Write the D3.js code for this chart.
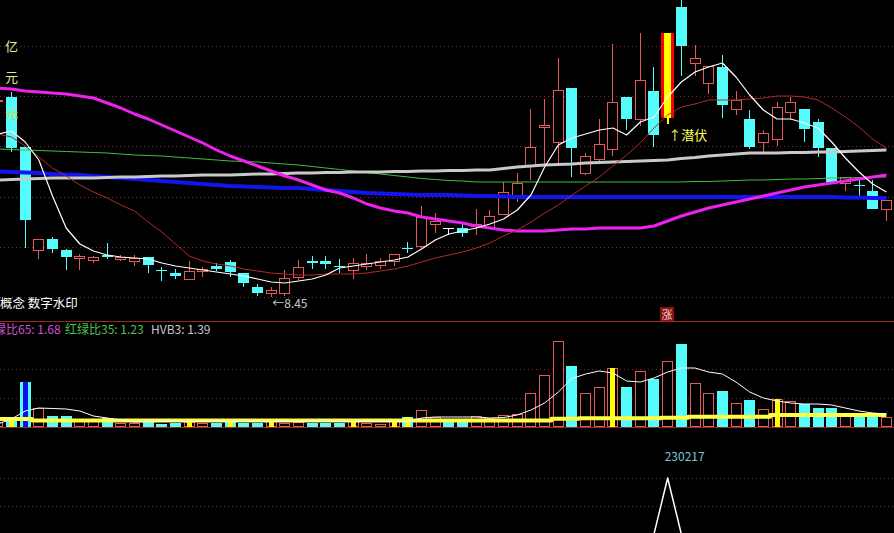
<!DOCTYPE html>
<html><head><meta charset="utf-8">
<script src="https://cdn.jsdelivr.net/npm/d3@7"></script>
<style>html,body{margin:0;padding:0;background:#000;overflow:hidden}svg{display:block}</style>
</head><body><svg id="c" width="894" height="533"></svg>
<script>
// ---- data (index -1 is the partially visible first bar) ----
const days = [-1,0,1,2,3,4,5,6,7,8,9,10,11,12,13,14,15,16,17,18,19,20,21,22,23,24,25,26,27,28,29,30,31,32,33,34,35,36,37,38,39,40,41,42,43,44,45,46,47,48,49,50,51,52,53,54,55,56,57,58,59,60,61,62,63,64];
const openP  = [12.37,12.45,11.45,9.39,9.61,9.39,9.23,9.19,9.29,9.21,9.17,9.25,8.98,8.93,8.81,8.97,9.07,9.15,8.93,8.65,8.53,8.53,8.85,9.17,9.17,9.07,8.99,9.07,9.09,9.17,9.42,9.47,9.91,9.83,9.83,9.87,9.85,10.11,10.43,11.07,11.85,11.55,12.63,10.93,11.21,11.41,12.45,12.01,12.57,12.03,14.25,13.13,12.73,13.05,12.21,12.01,11.55,11.61,12.15,12.21,11.95,11.43,10.73,10.70,10.57,10.21];
const closeP = [12.39,11.43,9.99,9.61,9.41,9.25,9.27,9.25,9.25,9.25,9.23,9.09,8.97,8.87,8.97,9.01,9.01,8.95,8.73,8.53,8.59,8.83,9.05,9.13,9.12,9.05,9.13,9.13,9.17,9.31,9.41,10.05,9.97,9.83,9.73,9.91,10.07,10.55,10.73,11.45,11.89,12.59,11.43,11.27,11.51,12.35,12.01,12.79,11.69,13.73,13.47,13.23,13.07,12.29,12.39,11.45,11.73,12.25,12.35,11.81,11.43,10.75,10.85,10.69,10.21,10.39];
const highP  = [12.39,12.55,11.45,9.61,9.65,9.41,9.31,9.27,9.53,9.29,9.29,9.25,9.05,9.01,9.17,9.05,9.13,9.19,8.93,8.71,8.65,8.99,9.19,9.27,9.27,9.21,9.23,9.31,9.23,9.31,9.55,10.27,10.13,9.83,9.93,10.21,10.19,10.75,10.93,12.21,12.41,13.23,12.63,11.33,12.01,13.51,12.45,13.73,13.05,13.73,14.42,13.49,13.07,13.29,12.57,12.19,11.79,12.35,12.45,12.21,12.01,11.43,10.85,10.79,10.79,10.39];
const lowP   = [12.37,11.35,9.43,9.21,9.33,8.99,8.99,9.13,9.21,9.17,9.07,8.93,8.77,8.81,8.79,8.85,8.97,8.85,8.65,8.47,8.45,8.47,8.79,9.01,9.01,8.93,8.81,8.99,9.01,9.07,9.33,9.43,9.73,9.69,9.65,9.69,9.83,10.11,10.35,10.79,11.07,11.13,10.85,10.89,11.13,11.27,11.79,11.87,11.45,11.91,12.87,12.87,12.51,12.03,12.09,11.41,11.33,11.47,11.99,11.55,11.25,10.75,10.57,10.45,10.21,9.97];
const maWhite = [11.71,11.77,11.55,11.19,10.47,9.83,9.51,9.37,9.29,9.25,9.23,9.21,9.13,9.07,9.03,8.99,8.95,8.91,8.87,8.81,8.75,8.73,8.77,8.81,8.89,9.03,9.07,9.11,9.15,9.19,9.25,9.41,9.59,9.71,9.77,9.83,9.91,10.01,10.19,10.49,11.05,11.49,11.63,11.71,11.79,11.83,11.69,11.95,12.05,12.45,12.75,12.95,13.05,13.13,12.85,12.49,12.19,12.01,12.01,11.93,11.83,11.55,11.23,10.95,10.71,10.55];
const maRed = [11.71,11.65,11.47,11.25,11.03,10.87,10.69,10.55,10.43,10.29,10.17,9.95,9.75,9.51,9.27,9.17,9.11,9.07,9.01,8.97,8.93,8.91,8.89,8.89,8.91,8.91,8.91,8.93,8.97,9.01,9.07,9.15,9.23,9.29,9.35,9.43,9.53,9.67,9.79,9.95,10.13,10.29,10.49,10.67,10.85,11.07,11.29,11.53,11.83,12.09,12.25,12.31,12.39,12.39,12.39,12.41,12.43,12.47,12.47,12.45,12.39,12.23,12.05,11.85,11.61,11.43];
const maMagenta = [12.63,12.61,12.57,12.55,12.53,12.51,12.47,12.43,12.33,12.23,12.11,12.01,11.89,11.77,11.65,11.53,11.39,11.27,11.17,11.07,10.97,10.87,10.79,10.69,10.59,10.53,10.43,10.31,10.23,10.17,10.13,10.05,10.01,9.97,9.93,9.87,9.83,9.79,9.77,9.77,9.77,9.79,9.81,9.81,9.83,9.83,9.83,9.83,9.87,9.97,10.07,10.15,10.23,10.29,10.35,10.41,10.47,10.53,10.59,10.65,10.69,10.73,10.77,10.81,10.85,10.89];
const maBlue = [10.96,10.95,10.94,10.93,10.91,10.90,10.89,10.87,10.85,10.83,10.81,10.79,10.77,10.75,10.73,10.71,10.69,10.67,10.66,10.65,10.64,10.63,10.63,10.61,10.59,10.57,10.55,10.53,10.52,10.51,10.50,10.49,10.49,10.49,10.48,10.47,10.47,10.46,10.45,10.45,10.45,10.45,10.45,10.45,10.45,10.45,10.45,10.45,10.45,10.45,10.45,10.45,10.45,10.45,10.45,10.45,10.45,10.45,10.45,10.45,10.45,10.45,10.44,10.44,10.43,10.43];
const maGray = [10.79,10.80,10.81,10.82,10.83,10.83,10.83,10.83,10.84,10.85,10.85,10.86,10.87,10.87,10.88,10.89,10.89,10.89,10.90,10.91,10.91,10.92,10.93,10.93,10.94,10.94,10.95,10.95,10.95,10.96,10.96,10.97,10.97,10.98,10.98,10.99,10.99,11.02,11.05,11.07,11.09,11.10,11.11,11.13,11.14,11.15,11.16,11.17,11.18,11.19,11.22,11.24,11.27,11.29,11.31,11.33,11.33,11.33,11.34,11.34,11.35,11.35,11.36,11.37,11.38,11.39];
const maGreen = [11.41,11.40,11.39,11.38,11.37,11.36,11.35,11.34,11.33,11.31,11.29,11.28,11.27,11.25,11.23,11.21,11.19,11.17,11.16,11.15,11.13,11.11,11.09,11.06,11.03,11.00,10.97,10.94,10.91,10.88,10.85,10.82,10.80,10.78,10.77,10.75,10.75,10.75,10.75,10.75,10.75,10.75,10.75,10.75,10.75,10.75,10.75,10.75,10.75,10.75,10.75,10.76,10.76,10.77,10.78,10.79,10.79,10.80,10.81,10.81,10.82,10.83,10.83,10.84,10.85,10.85];
const volume = [4,9,44,18,10,10,5,5,8,3,3,5,2,3,4,3,3,4,3,3,5,3,4,3,3,3,5,3,2,5,9,16,9,4,4,10,8,11,12,33,51,85,60,33,39,58,39,55,47,65,82,43,33,35,23,26,17,27,25,22,18,18,13,13,13,9];
const volMA = [2,7,15,18,17.5,17,15,10,8,6,4,4.5,4.5,4.5,4.5,4.5,4.5,4.5,4.5,4.5,4.5,4.5,4.5,4.5,4.5,4.5,4.5,4.5,4.5,4.5,4.5,8,9,9,9,9,8,8.5,11,16,23,34,47.5,52,55,53,45,44,48,54,58,58,54,52,44,34,28,25,23,22,22,21,18,15,13,12];
const volLong = [7,7,7,5.5,5.5,5.5,5.5,5.5,5.5,5.5,5.5,5.5,5.5,5.5,5.5,5.5,5.5,5.5,5.5,5.5,5.5,5.5,5.5,5.5,5.5,5.5,5.5,5.5,5.5,5.5,5.5,5.5,5.5,5.5,5.5,5.5,5.5,5.5,5.5,5.5,5.5,7.3,7.3,7.7,7.7,7.7,7.7,7.7,7.7,8.3,8.3,9.3,9.3,9.3,9.3,9.3,9.3,11,11,11,11,11,11,11,11,11];
const yellowDays = [0,13,16,19,25,28,29,44,56];
const blueDays = [1];
const specialDay = 48;
const signal = [0,0,0,0,0,0,0,0,0,0,0,0,0,0,0,0,0,0,0,0,0,0,0,0,0,0,0,0,0,0,0,0,0,0,0,0,0,0,0,0,0,0,0,0,0,0,0,0,0,1,0,0,0,0,0,0,0,0,0,0,0,0,0,0,0,0];
const signalDate = "230217";
const mainGrid = [8.45,9.45,10.45,11.46,12.46,13.47];
const volGrid = [28.5,57];
const sigGrid = [0.5,1];
const legendVol = [["红绿比65: 1.68","#d050d0"],["红绿比35: 1.23","#4cc44c"],["HVB3: 1.39","#c8c8c8"]];

// ---- scales ----
const W = 894, H = 533;
const x = d3.scaleLinear().domain([-1,64]).range([-2.17,886.38]);
const y = d3.scaleLinear().domain([8.45,14.39]).range([297,0]);
const yv = d3.scaleLinear().domain([0,105]).range([426,321]);
const ys = d3.scaleLinear().domain([0,1]).range([534,478]);

const UP = "#e25a5a", DN = "#54fcfc";
const FONT = "'Noto Sans CJK SC','DejaVu Sans',sans-serif";
const svg = d3.select("#c");
svg.append("rect").attr("width",W).attr("height",H).attr("fill","#000");

const rows = days.map((d,k)=>({i:d,k,o:openP[k],c:closeP[k],h:highP[k],l:lowP[k],v:volume[k]}));

// grid
const grid = svg.append("g").attr("stroke","#7a2a2a").attr("stroke-dasharray","1,3").attr("shape-rendering","crispEdges");
const gl = yy => grid.append("line").attr("x1",0).attr("x2",W).attr("y1",Math.round(yy)+0.5).attr("y2",Math.round(yy)+0.5);
mainGrid.forEach(p=>gl(y(p)));
volGrid.forEach(v=>gl(yv(v)));
sigGrid.forEach(v=>gl(ys(v)));

// separators
svg.append("line").attr("x1",0).attr("x2",W).attr("y1",321.5).attr("y2",321.5).attr("stroke","#9a2828");
svg.append("line").attr("x1",0).attr("x2",W).attr("y1",427.5).attr("y2",427.5).attr("stroke","#9a2828");

// candles
const cg = svg.append("g").attr("shape-rendering","crispEdges");
rows.forEach(d=>{
  const left = Math.round(x(d.i)-5.5);
  const cx = left+5.5;
  const yo=Math.round(y(d.o)), yc=Math.round(y(d.c)), yh=Math.round(y(d.h)), yl=Math.round(y(d.l));
  const top=Math.min(yo,yc), bot=Math.max(yo,yc);
  if (d.i===specialDay){
    cg.append("line").attr("x1",cx).attr("x2",cx).attr("y1",bot).attr("y2",yl).attr("stroke","#ffff00").attr("stroke-width",2);
    cg.append("rect").attr("x",left-1).attr("y",top).attr("width",13).attr("height",bot-top).attr("fill","#ff0000");
    cg.append("rect").attr("x",left+2).attr("y",top).attr("width",7).attr("height",bot-top).attr("fill","#ffff00");
    return;
  }
  if (d.c>d.o){
    cg.append("line").attr("x1",cx).attr("x2",cx).attr("y1",yh).attr("y2",top).attr("stroke",UP);
    cg.append("line").attr("x1",cx).attr("x2",cx).attr("y1",bot).attr("y2",yl).attr("stroke",UP);
    cg.append("rect").attr("x",left+0.5).attr("y",top+0.5).attr("width",10).attr("height",Math.max(bot-top,1)).attr("fill","#000").attr("stroke",UP);
  } else {
    const col = d.c<d.o ? DN : "#ffffff";
    cg.append("line").attr("x1",cx).attr("x2",cx).attr("y1",yh).attr("y2",yl).attr("stroke",col);
    if (bot-top>=1) cg.append("rect").attr("x",left).attr("y",top).attr("width",11).attr("height",bot-top).attr("fill",col);
    else cg.append("line").attr("x1",left).attr("x2",left+11).attr("y1",top+0.5).attr("y2",top+0.5).attr("stroke",col);
  }
});

// moving-average lines
const line = (arr,sc)=>d3.line().x((d,k)=>x(days[k])).y(d=>sc(d))(arr);
const drawL = (arr,col,w,sc=y,curve)=>{
  const g = d3.line().x((d,k)=>x(days[k])).y(d=>sc(d));
  if(curve) g.curve(curve);
  svg.append("path").attr("d",g(arr)).attr("fill","none").attr("stroke",col).attr("stroke-width",w).attr("stroke-linejoin","round");
};
drawL(maGreen,"#3fbf3f",1);
drawL(maBlue,"#1414f0",4);
drawL(maGray,"#c9c9c9",3);
drawL(maMagenta,"#ee22ee",3);
drawL(maRed,"#b22a2a",1);
drawL(maWhite,"#ffffff",1.2);

// texts in main panel
const txt=(s,xx,yy,col,size,anchor)=>svg.append("text").attr("x",xx).attr("y",yy).attr("fill",col).attr("font-size",size).attr("font-family",FONT).attr("text-anchor",anchor||"start").text(s);
txt("亿",5,51,"#e8e890",13);
txt("元",5,82,"#e8e890",13);
txt("元",5,118,"#c8d850",13);
const kMin = d3.minIndex(lowP);
txt("←"+d3.min(lowP).toFixed(2), x(days[kMin])+1, y(d3.min(lowP))+11, "#c8c8c8", 12);
txt("概念 数字水印",0,308,"#ffffff",12.5);
const kS = days.indexOf(specialDay);
txt("↑潜伏", x(specialDay)+0.5, y(lowP[kS])+16, "#ffff55", 13);
svg.append("rect").attr("x",Math.round(x(specialDay))-8).attr("y",307).attr("width",14).attr("height",14).attr("fill","#8c0f0f");
txt("涨", Math.round(x(specialDay))-1, 318.5, "#f0d0d0", 11, "middle");

// volume bars
const vg = svg.append("g").attr("shape-rendering","crispEdges");
rows.forEach(d=>{
  const left = Math.round(x(d.i)-5.5);
  const t = Math.round(yv(d.v)), b = Math.round(yv(0));
  if (d.c>d.o || d.i===specialDay){
    vg.append("rect").attr("x",left+0.5).attr("y",t+0.5).attr("width",10).attr("height",b-t).attr("fill","#000").attr("stroke",UP);
  } else {
    vg.append("rect").attr("x",left).attr("y",t).attr("width",11).attr("height",b-t+1).attr("fill",DN);
  }
  if (yellowDays.includes(d.i)) vg.append("rect").attr("x",left+3).attr("y",t).attr("width",5).attr("height",b-t+1).attr("fill","#ffff00");
  if (blueDays.includes(d.i)) vg.append("rect").attr("x",left+3).attr("y",t).attr("width",5).attr("height",b-t+1).attr("fill","#1010f0");
});
drawL(volLong,"#ffff44",4,yv,d3.curveStep);
drawL(volMA,"#ffffff",1,yv);

// legend of volume panel
let lx = -18;
const lxs=[-18,65,151];
legendVol.forEach((L,k)=>txt(L[0],lxs[k],334,L[1],12));

// signal panel
drawL(signal,"#ffffff",1.5,ys);
txt(signalDate, x(specialDay)-3, ys(1)-17, "#78c8d8", 12);
</script></body></html>
